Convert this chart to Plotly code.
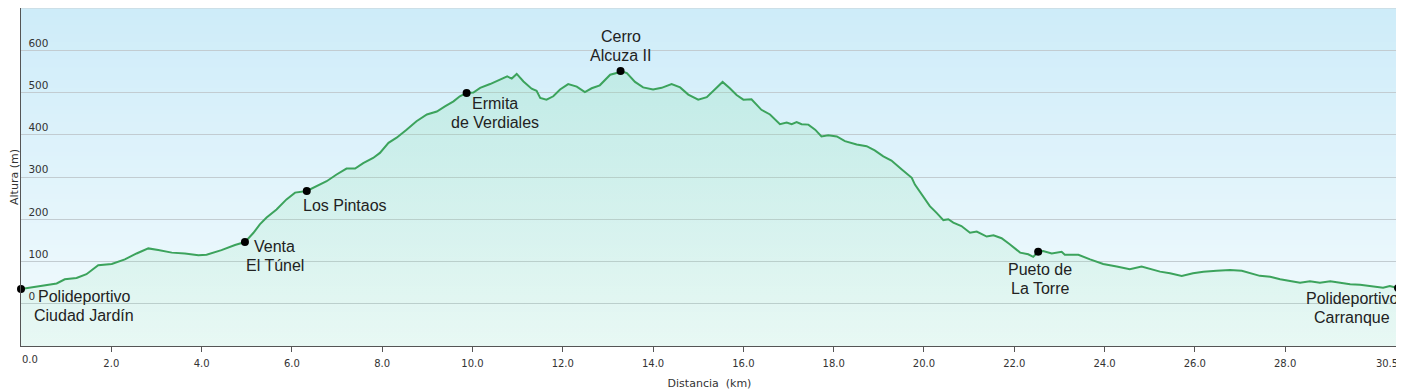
import plotly.graph_objects as go

# ---------------- data ----------------
km = [0.00, 0.42, 0.57, 0.79, 0.97, 1.23, 1.45, 1.71, 2.01, 2.30, 2.56, 2.82, 3.04, 3.34, 3.63,
      3.93, 4.11, 4.44, 4.74, 4.96, 5.15, 5.29, 5.44, 5.66, 5.88, 6.07, 6.33, 6.55, 6.77, 6.99,
      7.21, 7.40, 7.58, 7.80, 7.95, 8.14, 8.32, 8.54, 8.76, 8.99, 9.21, 9.39, 9.58, 9.72, 9.87,
      10.02, 10.17, 10.39, 10.61, 10.77, 10.87, 10.98, 11.13, 11.31, 11.42, 11.50, 11.64, 11.79,
      11.94, 12.12, 12.31, 12.49, 12.64, 12.82, 13.05, 13.19, 13.28, 13.42, 13.60, 13.78, 14.00,
      14.19, 14.41, 14.60, 14.78, 15.00, 15.19, 15.37, 15.54, 15.70, 15.85, 16.00, 16.18, 16.40,
      16.59, 16.81, 16.96, 17.07, 17.18, 17.29, 17.44, 17.59, 17.73, 17.88, 18.07, 18.25, 18.51,
      18.73, 18.91, 19.10, 19.28, 19.51, 19.73, 19.80, 19.95, 20.13, 20.28, 20.43, 20.54, 20.65,
      20.83, 21.02, 21.17, 21.39, 21.54, 21.72, 21.90, 22.13, 22.31, 22.42, 22.53, 22.64, 22.83,
      23.05, 23.12, 23.42, 23.68, 23.97, 24.27, 24.56, 24.82, 25.00, 25.23, 25.45, 25.71, 25.96,
      26.19, 26.48, 26.78, 27.04, 27.26, 27.44, 27.67, 27.89, 28.11, 28.33, 28.55, 28.77, 29.00,
      29.22, 29.44, 29.66, 29.89, 30.17, 30.32, 30.50]
elev = [35, 42, 46, 48, 58, 61, 70, 91, 94, 105, 119, 131, 127, 121, 119,
        115, 116, 127, 139, 146, 168, 188, 204, 223, 247, 263, 267, 278, 290, 306,
        320, 320, 333, 345, 357, 381, 393, 412, 432, 448, 455, 467, 479, 491, 499,
        500, 511, 520, 530, 538, 533, 544, 526, 509, 504, 487, 483, 491,
        507, 520, 514, 501, 510, 517, 542, 546, 551, 546, 525, 512, 507,
        511, 520, 512, 495, 483, 489, 507, 525, 510, 494, 483, 484, 459,
        448, 425, 429, 425, 430, 425, 424, 412, 396, 399, 396, 385, 377,
        373, 363, 349, 339, 318, 298, 282, 259, 231, 215, 198, 200, 192,
        184, 168, 171, 159, 162, 155, 141, 121, 117, 111, 123, 125, 119,
        123, 116, 116, 105, 94, 88, 82, 88, 83, 76, 72, 66, 72,
        76, 78, 80, 78, 72, 66, 64, 58, 54, 50, 53, 50, 53,
        50, 46, 45, 42, 38, 42, 37]

wp_names = [["Polideportivo", "Ciudad Jardín"], ["Venta", "El Túnel"], ["Los Pintaos"],
            ["Ermita", "de Verdiales"], ["Cerro", "Alcuza II"], ["Pueto de", "La Torre"],
            ["Polideportivo", "Carranque"]]
wp_km = [0.0, 4.96, 6.33, 9.87, 13.28, 22.53, 30.5]
wp_elev = [35, 146, 267, 499, 551, 123, 37]

x_start_tick = [0]
x_start_label = ["0.0"]
x_ticks = [2, 4, 6, 8, 10, 12, 14, 16, 18, 20, 22, 24, 26, 28]
x_tick_labels = ["2.0", "4.0", "6.0", "8.0", "10.0", "12.0", "14.0", "16.0",
                 "18.0", "20.0", "22.0", "24.0", "26.0", "28.0"]
x_end_tick = [30.5]
x_end_label = ["30.5"]
y_ticks = [0, 100, 200, 300, 400, 500, 600]
y_tick_labels = ["0", "100", "200", "300", "400", "500", "600"]

X_RANGE = [0, 30.5]
Y_RANGE = [-100, 700]

# label styling: offset (px right, px down) of first text line centre from waypoint
wp_offsets = [(63, 8), (30, 4), (38, 15), (28, 11), (0, -34), (2, 18), (-46, 10)]
LINE_GAP = 19

# ---------------- figure ----------------
fig = go.Figure()

fig.add_trace(go.Scatter(x=km, y=[Y_RANGE[0]] * len(km), mode="lines",
                         line=dict(width=0, color="rgba(0,0,0,0)"),
                         hoverinfo="skip", showlegend=False))
fig.add_trace(go.Scatter(x=km, y=elev, mode="lines", fill="tonexty",
                         fillgradient=dict(type="vertical",
                                           colorscale=[[0, "rgba(150,228,175,0.12)"],
                                                       [1, "rgba(130,222,170,0.24)"]]),
                         line=dict(color="#3ca35c", width=2),
                         showlegend=False))
fig.add_trace(go.Scatter(x=wp_km, y=wp_elev, mode="markers", xaxis="x2",
                         marker=dict(color="black", size=8),
                         cliponaxis=False, showlegend=False))

# background vertical gradient (light blue -> near white)
shapes = []
n = 80
top = (206, 236, 249)
bot = (243, 251, 253)
for i in range(n):
    t = i / (n - 1)
    c = tuple(round(bot[k] + (top[k] - bot[k]) * t) for k in range(3))
    shapes.append(dict(type="rect", xref="paper", yref="paper",
                       x0=0, x1=1, y0=i / n, y1=min(1, (i + 1.6) / n),
                       fillcolor="rgb(%d,%d,%d)" % c, line=dict(width=0),
                       layer="below"))
# light frame on top and right
shapes.append(dict(type="line", xref="paper", yref="paper", x0=0, x1=1, y0=1, y1=1,
                   line=dict(color="#c9d1d5", width=1), layer="above"))
shapes.append(dict(type="line", xref="paper", yref="paper", x0=1, x1=1, y0=0, y1=1,
                   line=dict(color="#c9d1d5", width=1), layer="above"))

tick_font = dict(family="DejaVu Sans", size=10, color="#333")
title_font = dict(family="DejaVu Sans", size=11, color="#333")

annotations = []
for lines, xk, ye, (dx, dy) in zip(wp_names, wp_km, wp_elev, wp_offsets):
    for j, line in enumerate(lines):
        annotations.append(dict(x=xk, y=ye, xref="x", yref="y", text=line, showarrow=False,
                                xshift=dx, yshift=-(dy + j * LINE_GAP),
                                xanchor="center", yanchor="middle",
                                font=dict(family="Liberation Sans, Arial", size=16,
                                          color="#222")))
# first distance label (left-aligned at the axis origin)
for xv, lab in zip(x_start_tick, x_start_label):
    annotations.append(dict(x=xv, y=0, xref="x", yref="paper", text=lab, showarrow=False,
                            xanchor="left", yanchor="middle", xshift=-1, yshift=-13,
                            font=tick_font))

# page body has an 8px margin: the figure is sized/offset to compensate
fig.update_layout(
    width=1396, height=382,
    margin=dict(l=13, r=6, t=0, b=44),
    paper_bgcolor="white",
    plot_bgcolor="rgb(225,244,251)",
    shapes=shapes,
    annotations=annotations,
    showlegend=False,
    xaxis=dict(range=X_RANGE, tickvals=x_start_tick + x_ticks,
               ticktext=[""] + x_tick_labels,
               ticks="outside", ticklen=5, ticklabelstandoff=3,
               tickcolor="#555", showline=True, linecolor="#555", linewidth=1,
               showgrid=False, zeroline=False, tickfont=tick_font,
               title=dict(text="Distancia\u00a0 (km)", standoff=12, font=title_font),
               automargin=False, fixedrange=True),
    xaxis2=dict(range=X_RANGE, overlaying="x", anchor="y", side="bottom",
                tickvals=x_end_tick, ticktext=x_end_label, ticklabelshift=-11,
                ticks="outside", ticklen=5, ticklabelstandoff=3, tickcolor="#555",
                showline=False, showgrid=False, zeroline=False, tickfont=tick_font,
                ticklabeloverflow="allow", automargin=False, fixedrange=True),
    yaxis=dict(range=Y_RANGE, tickvals=y_ticks, ticktext=y_tick_labels,
               ticklabelposition="inside top", ticklabelstandoff=6, ticks="",
               showline=True, linecolor="#555", linewidth=1, showgrid=True,
               gridcolor="#c2ccd1", gridwidth=1, zeroline=False,
               tickfont=dict(family="DejaVu Sans", size=10.5, color="#333"),
               title=dict(text="Altura (m)", standoff=13, font=title_font),
               automargin=False, fixedrange=True),
)

fig.write_html("out.html")
